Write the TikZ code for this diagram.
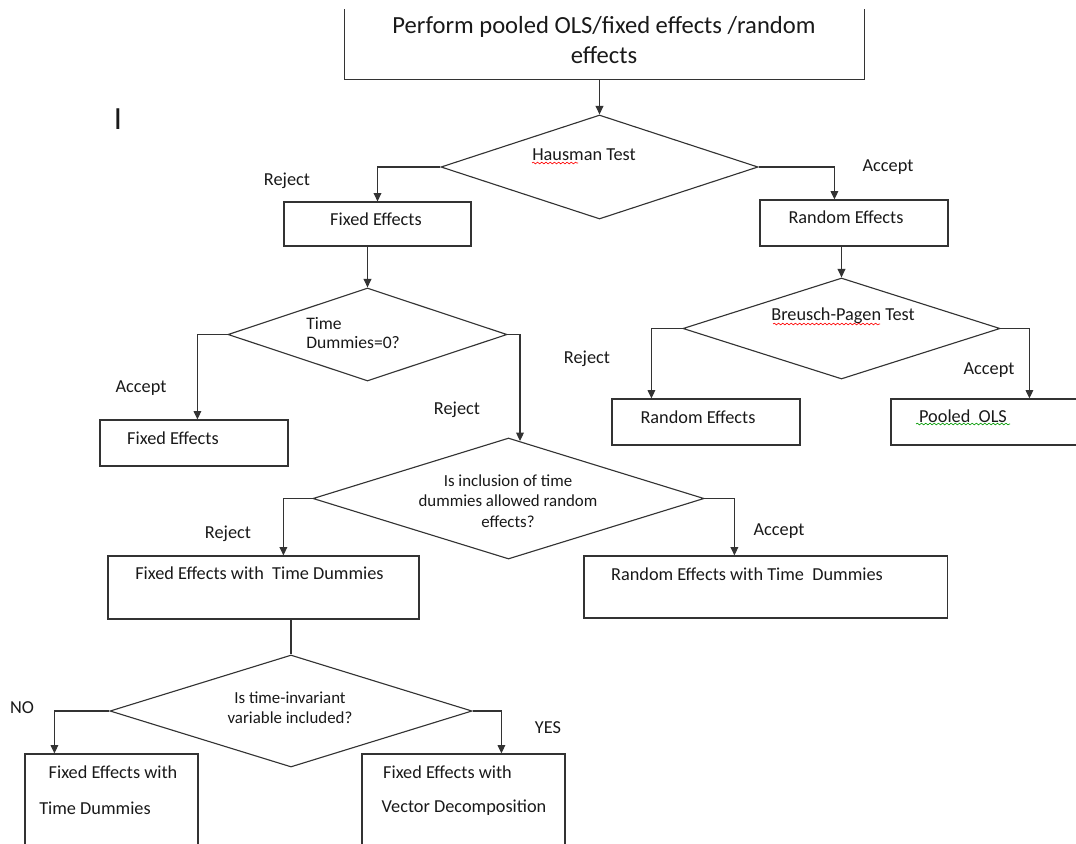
\documentclass[tikz,border=0pt]{standalone}
\usepackage{fontspec}
\setmainfont{Carlito}
\usetikzlibrary{shapes.geometric}
\usetikzlibrary{arrows.meta}
\usetikzlibrary{calc}
\usetikzlibrary{decorations.pathmorphing}

\begin{document}
\begin{tikzpicture}[x=0.025cm,y=-0.025cm,
  box/.style={draw=black!80,line width=0.8pt,rectangle,inner sep=0pt},
  test/.style={draw=black!80,line width=0.8pt,diamond,inner sep=0pt},
  txt/.style={text=black!90,inner sep=0pt,font=\fontsize{13}{16}\selectfont},
  small/.style={text=black!90,inner sep=0pt,align=center,font=\fontsize{12}{14.5}\selectfont},
  link/.style={draw=black!80,line width=0.8pt},
  arr/.style={link,-{Triangle[length=6pt,width=5.5pt]}},
  wavy/.style={decorate,decoration={snake,amplitude=0.6pt,segment length=3pt},line width=0.45pt}]
\useasboundingbox (0,0) rectangle (1076,843);
\clip (0,0) rectangle (1076,843);

% boxes
\node[box,draw=none,minimum width=12.975cm,minimum height=1.725cm] (ols) at (604.5,44.5) {};
\draw[link] (ols.north west) |- (ols.south east) -- (ols.north east);
\node[box,minimum width=4.675cm,minimum height=1.1cm] (fe1) at (377.5,224) {};
\node[box,minimum width=4.7cm,minimum height=1.15cm] (re1) at (854,223) {};
\node[box,minimum width=4.7cm,minimum height=1.15cm] (fe2) at (194,443) {};
\node[box,minimum width=4.7cm,minimum height=1.15cm] (re2) at (706,422) {};
\node[box,minimum width=5.225cm,minimum height=1.15cm] (pols) at (995.5,422) {};
\node[box,minimum width=7.775cm,minimum height=1.575cm] (fetd) at (263.5,587.5) {};
\node[box,minimum width=9.075cm,minimum height=1.55cm] (retd) at (765.5,587) {};
\node[box,minimum width=4.325cm,minimum height=2.65cm] (fetd2) at (111.5,807) {};
\node[box,minimum width=5.075cm,minimum height=2.65cm] (fevd) at (463.5,807) {};

% tests
\node[test,minimum width=7.925cm,minimum height=2.6cm] (haus) at (599.5,167) {};
\node[test,minimum width=6.975cm,minimum height=2.325cm] (time) at (367.5,334.5) {};
\node[test,minimum width=7.925cm,minimum height=2.525cm] (bp) at (841.5,328.5) {};
\node[test,minimum width=9.775cm,minimum height=3.025cm] (incl) at (508.5,498.5) {};
\node[test,minimum width=9.05cm,minimum height=2.8cm] (tinv) at (291,711) {};

% texts
\node[txt,align=center,font=\fontsize{17.5}{21.5}\selectfont] (t-ols) at (604,40) {Perform pooled OLS/fixed effects /random\\effects};
\node[txt] (t-haus) at (584,155) {Hausman Test};
\node[txt] (t-fe1) at (376,219) {Fixed Effects};
\node[txt] (t-re1) at (846,217) {Random Effects};
\node[txt,align=left,anchor=west,font=\fontsize{12.5}{14}\selectfont] (t-time) at (306,333) {Time\\Dummies=0?};
\node[txt] (t-bp) at (843,316) {Breusch-Pagen Test};
\node[txt] (t-fe2) at (173,438) {Fixed Effects};
\node[txt] (t-re2) at (698,417) {Random Effects};
\node[txt] (t-pols) at (963,416) {Pooled~~OLS};
\node[small] (t-incl) at (508,501) {Is inclusion of time\\dummies allowed random\\effects?};
\node[txt] (t-fetd) at (259.5,573) {Fixed Effects with~ Time Dummies};
\node[txt] (t-retd) at (747,574) {Random Effects with Time~ Dummies};
\node[small] (t-tinv) at (290,708) {Is time-invariant\\variable included?};
\node[txt] (t-fetd2a) at (113,772) {Fixed Effects with};
\node[txt] (t-fetd2b) at (95,808) {Time Dummies};
\node[txt] (t-fevda) at (447.5,772) {Fixed Effects with};
\node[txt] (t-fevdb) at (464,808) {Vector Decomposition};
\node[txt,font=\fontsize{23}{23}\selectfont] (t-cur) at (118,119) {I};

% labels
\node[txt] (rej1) at (287,181) {Reject};
\node[txt] (acc1) at (888,167) {Accept};
\node[txt] (acc2) at (141,388) {Accept};
\node[txt] (rej2) at (457,410) {Reject};
\node[txt] (rej3) at (587,359) {Reject};
\node[txt] (acc3) at (989,370) {Accept};
\node[txt] (rej4) at (228,534) {Reject};
\node[txt] (acc4) at (779,531) {Accept};
\node[txt] (no) at (22,708) {NO};
\node[txt] (yes) at (548,728) {YES};

% spell check marks
\draw[wavy,red] (532,163) -- (578,163);
\draw[wavy,red] (773,324) -- (880,324);
\draw[wavy,green!60!black] (916,424) -- (1010,424);

% connectors
\draw[arr] (haus.north |- ols.south) -- (haus.north);
\draw[arr] (haus.west) -| (fe1.north);
\draw[arr] (haus.east) -| ($(re1.north west)+(75,0)$);
\draw[arr] (time.north |- fe1.south) -- (time.north);
\draw[arr] (bp.north |- re1.south) -- (bp.north);
\draw[arr] (time.west) -| ($(fe2.north west)+(98,0)$);
\draw[arr] (time.east) -| ($(incl.north)+(11.5,3.6)$);
\draw[arr] (bp.west) -| ($(re2.north west)+(40,0)$);
\draw[arr] (bp.east) -| ($(pols.north west)+(139,0)$);
\draw[arr] (incl.west) -| ($(fetd.north west)+(176,0)$);
\draw[arr] (incl.east) -| ($(retd.north west)+(151,0)$);
\draw[link] (tinv.north |- fetd.south) -- (tinv.north);
\draw[arr] (tinv.west) -| ($(fetd2.north west)+(30,0)$);
\draw[arr] (tinv.east) -| ($(fevd.north west)+(140,0)$);
\end{tikzpicture}
\end{document}
